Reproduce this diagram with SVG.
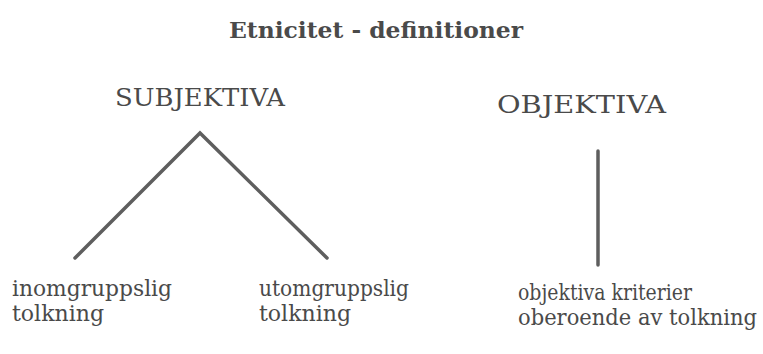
<svg xmlns="http://www.w3.org/2000/svg" width="763" height="354" viewBox="0 0 763 354">
<style>
text{font-family:"DejaVu Serif","Liberation Serif",serif;fill:#4a4a4a}
.t{font-size:22px;font-weight:bold}
.h{font-size:24px}
.l{font-size:21.5px}
.c{stroke:#5e5e5e;stroke-width:3.5;fill:none;stroke-linecap:round}
</style>
<rect width="763" height="354" fill="#fff"/>
<g id="title"><text class="t" x="229" y="38" textLength="294" lengthAdjust="spacingAndGlyphs">Etnicitet - definitioner</text></g>
<g id="subjektiva"><text class="h" x="115" y="106" textLength="170" lengthAdjust="spacingAndGlyphs">SUBJEKTIVA</text></g>
<g id="objektiva"><text class="h" x="497" y="113" textLength="169" lengthAdjust="spacingAndGlyphs">OBJEKTIVA</text></g>
<g id="inom"><text class="l" x="12" y="296" textLength="160" lengthAdjust="spacingAndGlyphs">inomgruppslig</text><text class="l" x="12" y="321" textLength="92" lengthAdjust="spacingAndGlyphs">tolkning</text></g>
<g id="utom"><text class="l" x="259" y="296" textLength="150" lengthAdjust="spacingAndGlyphs">utomgruppslig</text><text class="l" x="259" y="321" textLength="92" lengthAdjust="spacingAndGlyphs">tolkning</text></g>
<g id="obj-krit"><text class="l" x="518" y="300" textLength="174" lengthAdjust="spacingAndGlyphs">objektiva kriterier</text><text class="l" x="518" y="325" textLength="239" lengthAdjust="spacingAndGlyphs">oberoende av tolkning</text></g>
<g id="connectors">
<polyline class="c" points="75,258 200,133 327,258"/>
<line class="c" x1="598" y1="151" x2="598" y2="265"/>
</g>
</svg>
